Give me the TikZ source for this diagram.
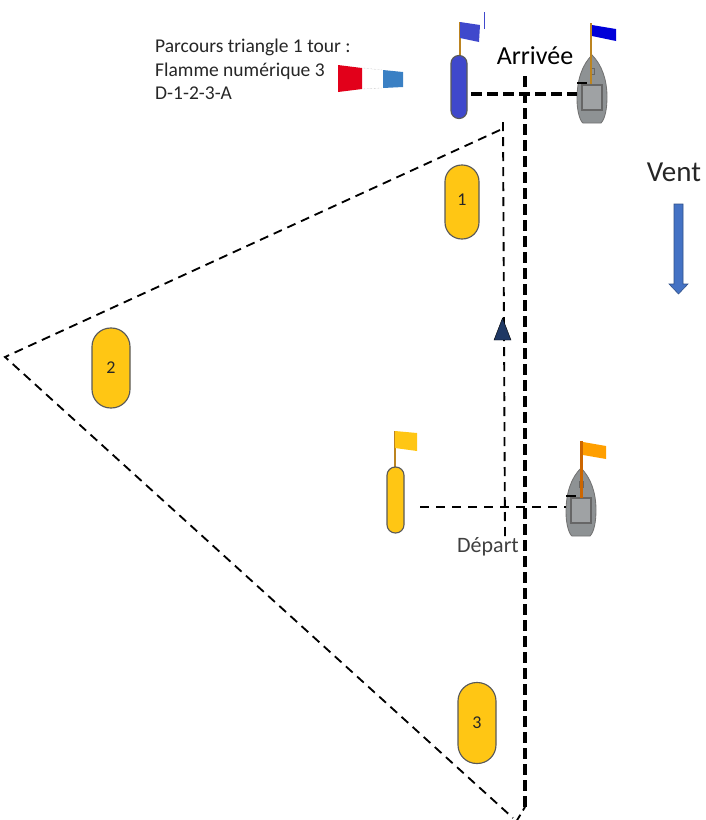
\documentclass[tikz,border=0pt]{standalone}
\usepackage{fontspec}
\setmainfont{Carlito}
\usepackage{xcolor}
\usepackage{tikz}
\usetikzlibrary{calc}
\definecolor{buoyyel}{HTML}{FFC614}
\definecolor{buoyblu}{HTML}{3F48CC}
\definecolor{polebrn}{HTML}{BC8420}
\definecolor{hullgry}{HTML}{8E9294}
\definecolor{ventblu}{HTML}{4472C4}
\definecolor{sockred}{HTML}{E2001A}
\definecolor{sockblu}{HTML}{3A80C4}
\definecolor{markdrk}{HTML}{1F3864}

\begin{document}
\begin{tikzpicture}[
  x=1pt,y=-1pt,
  buoy/.style 2 args={
    draw=black!65,
    line width=0.4mm,
    fill=#2,
    minimum width=#1,
    rounded corners=0.49*#1,
    inner sep=0pt,
    text=black!85,
    font=\fontsize{18}{18}\selectfont},
  crs/.style={
    line width=0.65mm,dash pattern=on 9pt off 6pt},
  lin/.style={
    line width=1.3mm,dash pattern=on 11pt off 5pt},
  pole/.style={
    line width=0.9mm,draw=#1},
  boat/.pic={
    \draw[fill=hullgry,draw=black!55,line width=0.3mm]
      (0,0) .. controls (-10,10) and (-15,25) .. (-15,44)
      .. controls (-15,56) and (-12,66) .. (-9,68)
      -- (9,68) .. controls (13,64) and (15,54) .. (15,42)
      .. controls (15,25) and (10,10) .. (0,0) -- cycle;
    \draw[draw=black!60,line width=0.5mm,fill=hullgry!85!white] (-10,30) rectangle (10,55);
    \draw[draw=black!60,line width=0.3mm] (-2,13) rectangle (2,19);
    \draw[line width=0.6mm] (-15,28) -- (-5,28);
  },
]
  \useasboundingbox (0,0) rectangle (705,820);

  % Marks of the course
  \coordinate (top) at (500,130);
  \coordinate (left) at (5,357);
  \coordinate (bot) at (513,818);
  \draw[crs] (top) -- (left) -- (bot);

  \node[buoy={34pt}{buoyyel},minimum height=74pt] (mark1) at (462,202) {\raisebox{4pt}{1}};
  \node[buoy={38pt}{buoyyel},minimum height=80pt] (mark2) at (111,368) {2};
  \node[buoy={38pt}{buoyyel},minimum height=81pt] (mark3) at (477,723) {3};

  % Finish
  \draw[pole=polebrn] (460,55) -- (460,22);
  \fill[buoyblu] (460,22) -- (480,25) -- (479,42) -- (460,38) -- cycle;
  \draw[line width=0.6mm,draw=buoyblu] (484.5,12) -- (484.5,29);
  \node[buoy={16pt}{buoyblu},minimum height=63pt] (arrbuoy) at (459,87) {};
  \pic (arrboat) at (592,55) {boat};
  \draw[pole=polebrn] (591,84) -- (591,23);
  \fill[blue!85!black] (592,25) -- (616,29) -- (616,41) -- (592,36) -- cycle;
  \coordinate (arrL) at (471,94);
  \coordinate (arrR) at (577,94);
  \draw[lin] (arrL) -- (arrR);
  \node[font=\fontsize{26}{26}\selectfont] (arrivee) at (535,56) {Arrivée};

  % Start
  \draw[pole=polebrn] (395,467) -- (395,431);
  \fill[buoyyel] (395,431) -- (417,433) -- (417,451) -- (395,448) -- cycle;
  \node[buoy={17pt}{buoyyel},minimum height=66pt] (depbuoy) at (395.5,500) {};
  \pic (depboat) at (581,468) {boat};
  \draw[pole=orange!80!black] (581.5,498) -- (581.5,441);
  \fill[orange!75!yellow] (583,442) -- (606,446) -- (606,459) -- (583,455) -- cycle;
  \coordinate (depL) at (420,507);
  \coordinate (depR) at (566,507);
  \draw[crs,dash pattern=on 9pt off 7pt] (depL) -- (depR);

  % Axis
  \coordinate (axtop) at (525,76);
  \coordinate (axbot) at (525,807);
  \coordinate (axend) at (516,822);
  \draw[lin] (axtop) -- (axbot);
  \draw[crs,dash pattern=on 4pt off 5pt on 9pt off 6pt] (axbot) -- (axend);

  \coordinate (upA) at (503,122);
  \coordinate (upB) at (505,537);
  \draw[crs] (upA) -- (upB);
  \fill[markdrk,draw=black] (502.5,318) -- (511,340) -- (494,340) -- cycle;
  \node[fill=white,inner sep=1pt,text=black!75,font=\fontsize{22}{22}\selectfont] (depart) at (488,547) {Départ};

  % Legend
  \node[align=left,anchor=north west,inner sep=0pt,text=black!85,font=\fontsize{19.5}{23.5}\selectfont] (legend) at (155,39)
    {Parcours triangle 1 tour :\\Flamme numérique 3\\D-1-2-3-A};
  \fill[sockred] (338,65) -- (362,68) -- (362,89) -- (338,92) -- cycle;
  \fill[sockblu] (383,70) -- (403,72) -- (403,87) -- (383,88) -- cycle;
  \draw[gray!70,densely dotted] (363,68) -- (382,70);
  \draw[gray!70,densely dotted] (363,89) -- (382,88);

  % Wind
  \node[text=black!85,font=\fontsize{29}{29}\selectfont] (vent) at (674,172) {Vent};
  \fill[ventblu,draw=ventblu!70!black,line width=0.2mm]
    (674,204) -- (683,204) -- (683,284) -- (688,284) -- (678.5,294)
    -- (669,284) -- (674,284) -- cycle;
\end{tikzpicture}
\end{document}
